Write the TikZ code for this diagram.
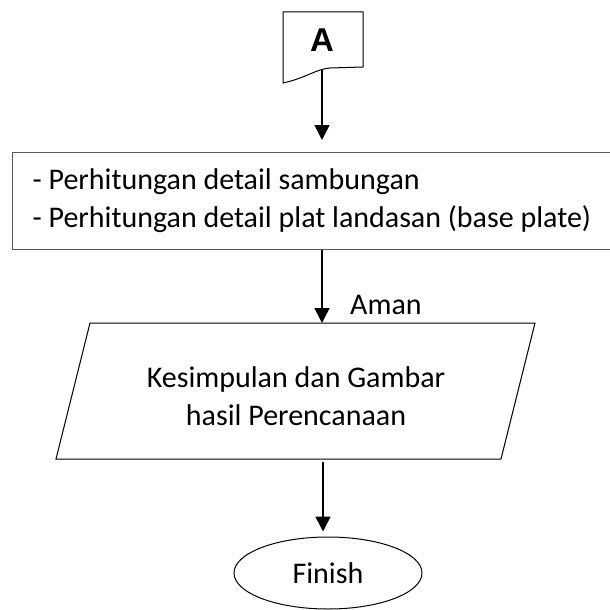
\documentclass[tikz,border=0pt]{standalone}
\usepackage{fontspec}
\setmainfont{Carlito}
\newfontfamily\labelsans{Liberation Sans}
\usetikzlibrary{shapes.geometric,arrows.meta}
\begin{document}
\begin{tikzpicture}[x=1pt,y=-1pt,
  txt/.style={font=\fontsize{30}{38}\selectfont, inner sep=0pt},
  shape line/.style={draw=black, line width=1pt},
  flow/.style={draw=black, line width=1.6pt, -{Triangle[length=15pt,width=15pt]}},
]
\useasboundingbox (0,0) rectangle (610,610);
\clip (0,0) rectangle (610,610);

% off-page connector "A"
\draw[shape line, fill=white] (283,12) -- (363,12) -- (363,67) -- (330,68)
  .. controls (316,69) and (306,78) .. (283,83) -- cycle;
\node[inner sep=0pt, font=\labelsans\bfseries\fontsize{33}{36}\selectfont] (A) at (322,40) {A};
\coordinate (Abot) at (322,70);

% process box
\node[draw=black!65, line width=1.2pt, anchor=north west, minimum width=640pt, minimum height=97pt,
      text width=600pt, inner xsep=20pt, inner ysep=0pt, align=flush left, font=\fontsize{30}{38}\selectfont]
  (proc) at (12,152) {- Perhitungan detail sambungan\\- Perhitungan detail plat landasan (base plate)};

% input/output parallelogram
\coordinate (p1) at (90,323);
\coordinate (p2) at (535,323);
\coordinate (p3) at (501,459);
\coordinate (p4) at (56,459);
\draw[shape line] (p1) -- (p2) -- (p3) -- (p4) -- cycle;
\node[txt, align=flush center] (io) at (296,396) {Kesimpulan dan Gambar\\hasil Perencanaan};

% terminator
\node[shape line, ellipse, minimum width=188pt, minimum height=72pt, txt, inner sep=0pt]
  (fin) at (328,573) {Finish};

% connectors
\draw[flow, shorten >=12pt] (Abot) -- (Abot |- proc.north);
\draw[flow] (Abot |- proc.south) -- (Abot |- p1);
\node[txt, anchor=west] (aman) at (350,305) {Aman};
\coordinate (iobot) at (323,462);
\draw[flow, shorten >=5pt] (iobot) -- (iobot |- fin.north);
\end{tikzpicture}
\end{document}
